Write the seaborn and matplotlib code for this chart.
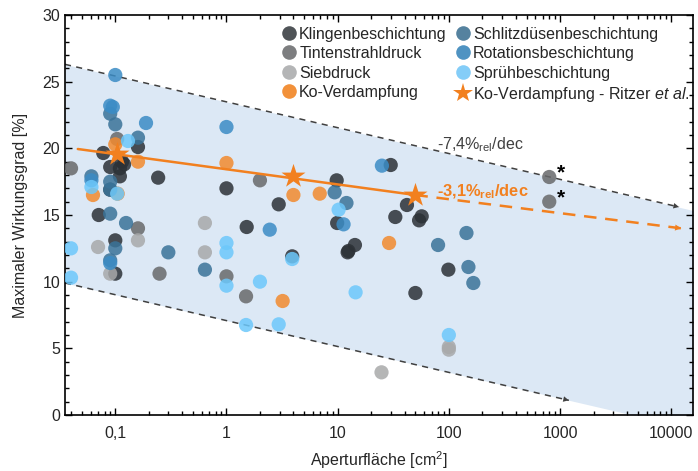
import numpy as np
import pandas as pd
import matplotlib
matplotlib.use("Agg")
import matplotlib.pyplot as plt
from matplotlib.ticker import FixedLocator, LogLocator, MultipleLocator, NullFormatter
from matplotlib.lines import Line2D
import seaborn as sns

# ---------------- data ----------------
klingen_x = [0.16, 0.078, 0.12, 0.09, 0.11, 0.11, 0.09, 0.243, 1.0, 2.95, 0.071, 1.52, 0.1, 3.9,
             12.3, 0.1, 99, 50, 30, 9.8, 9.9, 14.3, 12.5, 33, 42, 57, 54, 0.115]
klingen_y = [20.1, 19.65, 18.8, 18.6, 18.5, 17.9, 16.9, 17.8, 17.0, 15.8, 15.0, 14.1, 13.1, 11.9,
             12.2, 10.6, 10.9, 9.15, 18.75, 17.6, 14.4, 12.75, 12.3, 14.85, 15.75, 14.9, 14.6, 19.0]

tinten_x = [0.104, 0.040, 2.0, 0.16, 0.25, 1.0, 1.5, 800, 800]
tinten_y = [20.7, 18.5, 17.6, 14.0, 10.6, 10.4, 8.9, 17.85, 16.0]

sieb_x = [0.64, 0.07, 0.16, 0.64, 0.09, 100, 100, 24.8]
sieb_y = [14.4, 12.6, 13.1, 12.2, 10.6, 5.1, 4.9, 3.2]

ko_x = [0.1, 0.16, 0.063, 0.105, 1.0, 4.0, 6.9, 3.2, 29]
ko_y = [20.3, 19.0, 16.5, 16.6, 18.9, 16.5, 16.6, 8.55, 12.9]

schlitz_x = [0.09, 0.1, 0.16, 0.061, 0.09, 0.09, 0.125, 0.1, 0.30, 0.64, 0.09, 9.4, 12, 80, 144,
             150, 166, 0.09]
schlitz_y = [22.6, 21.8, 20.8, 17.9, 17.5, 15.1, 14.4, 12.5, 12.2, 10.9, 11.6, 16.7, 15.9, 12.75,
             13.65, 11.1, 9.9, 16.9]

rotation_x = [0.1, 0.09, 0.095, 0.189, 1.0, 0.061, 2.45, 0.09, 25, 11.3]
rotation_y = [25.5, 23.2, 23.1, 21.9, 21.6, 17.6, 13.9, 11.4, 18.7, 14.3]

spray_x = [0.13, 0.061, 0.104, 0.040, 1.0, 1.0, 3.9, 0.040, 1.0, 2.0, 14.5, 1.5, 2.95, 10.2, 100]
spray_y = [20.55, 17.1, 16.6, 12.5, 12.9, 12.2, 11.7, 10.3, 9.7, 10.0, 9.2, 6.75, 6.8, 15.4, 6.0]

ritzer_x = [0.104, 4.0, 50]
ritzer_y = [19.6, 17.9, 16.5]

# trend of co-evaporation (solid fit + dashed extrapolation)
trend_x = [0.046, 50]
trend_y = [19.95, 16.5]
trend_ext_x = [50, 12300]
trend_ext_y = [16.5, 14.0]

# envelope lines (-7,4 %rel/dec)
band_x = [0.0353, 15700]
band_upper = [26.3, 15.34]
band_lower = [9.9, -1.06]
upper_arrow_x = [0.0353, 11750]
upper_arrow_y = [26.3, 15.6]
lower_arrow_x = [0.0353, 1200]
lower_arrow_y = [9.9, 1.1]

x_ticks = [0.1, 1, 10, 100, 1000, 10000]
x_ticklabels = ["0,1", "1", "10", "100", "1000", "10000"]
y_ticks = [0, 5, 10, 15, 20, 25, 30]

methods = ["Klingenbeschichtung", "Tintenstrahldruck", "Siebdruck", "Ko-Verdampfung",
           "Schlitzdüsenbeschichtung", "Rotationsbeschichtung", "Sprühbeschichtung"]
colors = ["#2c3136", "#68696b", "#a8a9aa", "#f28a2e", "#3a7399", "#3b8cc5", "#6cc8fb"]
legend_colors = ["#505458", "#7d7e80", "#b4b5b6", "#f2913a", "#55829f", "#4f93c2", "#84cdf8"]

xs = [klingen_x, tinten_x, sieb_x, ko_x, schlitz_x, rotation_x, spray_x]
ys = [klingen_y, tinten_y, sieb_y, ko_y, schlitz_y, rotation_y, spray_y]

df = pd.concat([pd.DataFrame({"x": x, "y": y, "Methode": m}) for x, y, m in zip(xs, ys, methods)],
               ignore_index=True)

# ---------------- plot ----------------
sns.set_style("ticks")
plt.rcParams["font.family"] = ["Liberation Sans", "DejaVu Sans"]
plt.rcParams["mathtext.fontset"] = "custom"
plt.rcParams["mathtext.rm"] = "Liberation Sans"
plt.rcParams["mathtext.it"] = "Liberation Sans:italic"
plt.rcParams["mathtext.bf"] = "Liberation Sans:bold"

fig = plt.figure(figsize=(6.98, 4.71), dpi=100)
ax = fig.add_axes([65 / 698, 56 / 471, 628 / 698, 400 / 471])
ax.set_xscale("log")
ax.set_xlim(0.0353, 15700)
ax.set_ylim(0, 30)

ax.fill_between(band_x, band_lower, band_upper, color="#dce8f5", lw=0, zorder=0)

dash_col = "#404040"
for bx, by in [(upper_arrow_x, upper_arrow_y), (lower_arrow_x, lower_arrow_y)]:
    ax.plot(bx, by, color=dash_col, lw=1.1, dashes=(4, 3.5), zorder=1)
    ax.annotate("", xy=(bx[1], by[1]), xytext=(bx[1] / 1.6, by[1] + 1.94 * np.log10(1.6)),
                arrowprops=dict(arrowstyle="-|>", color=dash_col, lw=0, mutation_scale=10,
                                shrinkA=0, shrinkB=0), zorder=1)

palette = dict(zip(methods, colors))
sns.scatterplot(data=df, x="x", y="y", hue="Methode", palette=palette, s=105, alpha=0.85,
                linewidth=0, ax=ax, legend=False, zorder=3)

orange = "#f2801f"
ax.plot(trend_x, trend_y, color=orange, lw=1.8, zorder=4)
ax.plot(trend_ext_x, trend_ext_y, color=orange, lw=1.8, dashes=(5, 3.5), zorder=4)
slope = (trend_ext_y[1] - trend_ext_y[0]) / np.log10(trend_ext_x[1] / trend_ext_x[0])
ax.annotate("", xy=(trend_ext_x[1], trend_ext_y[1]),
            xytext=(trend_ext_x[1] / 1.6, trend_ext_y[1] - slope * np.log10(1.6)),
            arrowprops=dict(arrowstyle="-|>", color=orange, lw=0, mutation_scale=11,
                            shrinkA=0, shrinkB=0), zorder=4)

ax.scatter(ritzer_x, ritzer_y, marker="*", s=330, color=orange, linewidths=0, zorder=5)

ax.text(78.9, 20.25, r"-7,4%$_{\mathregular{rel}}$/dec", color="#404040", fontsize=11.5,
        va="center", ha="left", zorder=6)
ax.text(77.5, 16.75, r"-3,1%$_{\mathbf{rel}}$/dec", color=orange, fontsize=11.8,
        fontweight="bold", va="center", ha="left", zorder=6)
ax.text(1010, 18.15, "*", fontsize=15, fontweight="bold", color="black", ha="center", va="center")
ax.text(1010, 16.3, "*", fontsize=15, fontweight="bold", color="black", ha="center", va="center")

# axes & ticks
ax.xaxis.set_major_locator(FixedLocator(x_ticks))
ax.set_xticklabels(x_ticklabels)
ax.xaxis.set_minor_locator(LogLocator(base=10, subs=np.arange(2, 10), numticks=20))
ax.xaxis.set_minor_formatter(NullFormatter())
ax.set_yticks(y_ticks)
ax.yaxis.set_minor_locator(MultipleLocator(1))
ax.tick_params(which="both", direction="in", top=True, right=True, labelsize=11.5,
               color="black", width=1.0)
ax.tick_params(which="major", length=5)
ax.tick_params(which="minor", length=3)
ax.tick_params(axis="x", pad=8)
for sp in ax.spines.values():
    sp.set_linewidth(1.2)
    sp.set_color("black")
ax.set_xlabel(r"Aperturfläche [cm$^{\mathregular{2}}$]", fontsize=11.5, labelpad=6)
ax.set_ylabel("Maximaler Wirkungsgrad [%]", fontsize=11.5, labelpad=10)

# legend
handles = [Line2D([], [], marker="o", ls="", color=c, markersize=10.5, markeredgewidth=0)
           for c in legend_colors]
handles.append(Line2D([], [], marker="*", ls="", color=orange, markersize=15, markeredgewidth=0))
labels = methods + [r"Ko-Verdampfung - Ritzer $\mathit{et\ al.}$"]
leg = ax.legend(handles, labels, ncol=2, loc="upper left", bbox_to_anchor=(0.331, 0.995),
                frameon=False, fontsize=11.5, handlelength=0.8, handletextpad=0.25,
                columnspacing=0.6, labelspacing=0.28, borderaxespad=0.2)

fig.savefig("out.png", dpi=100)
